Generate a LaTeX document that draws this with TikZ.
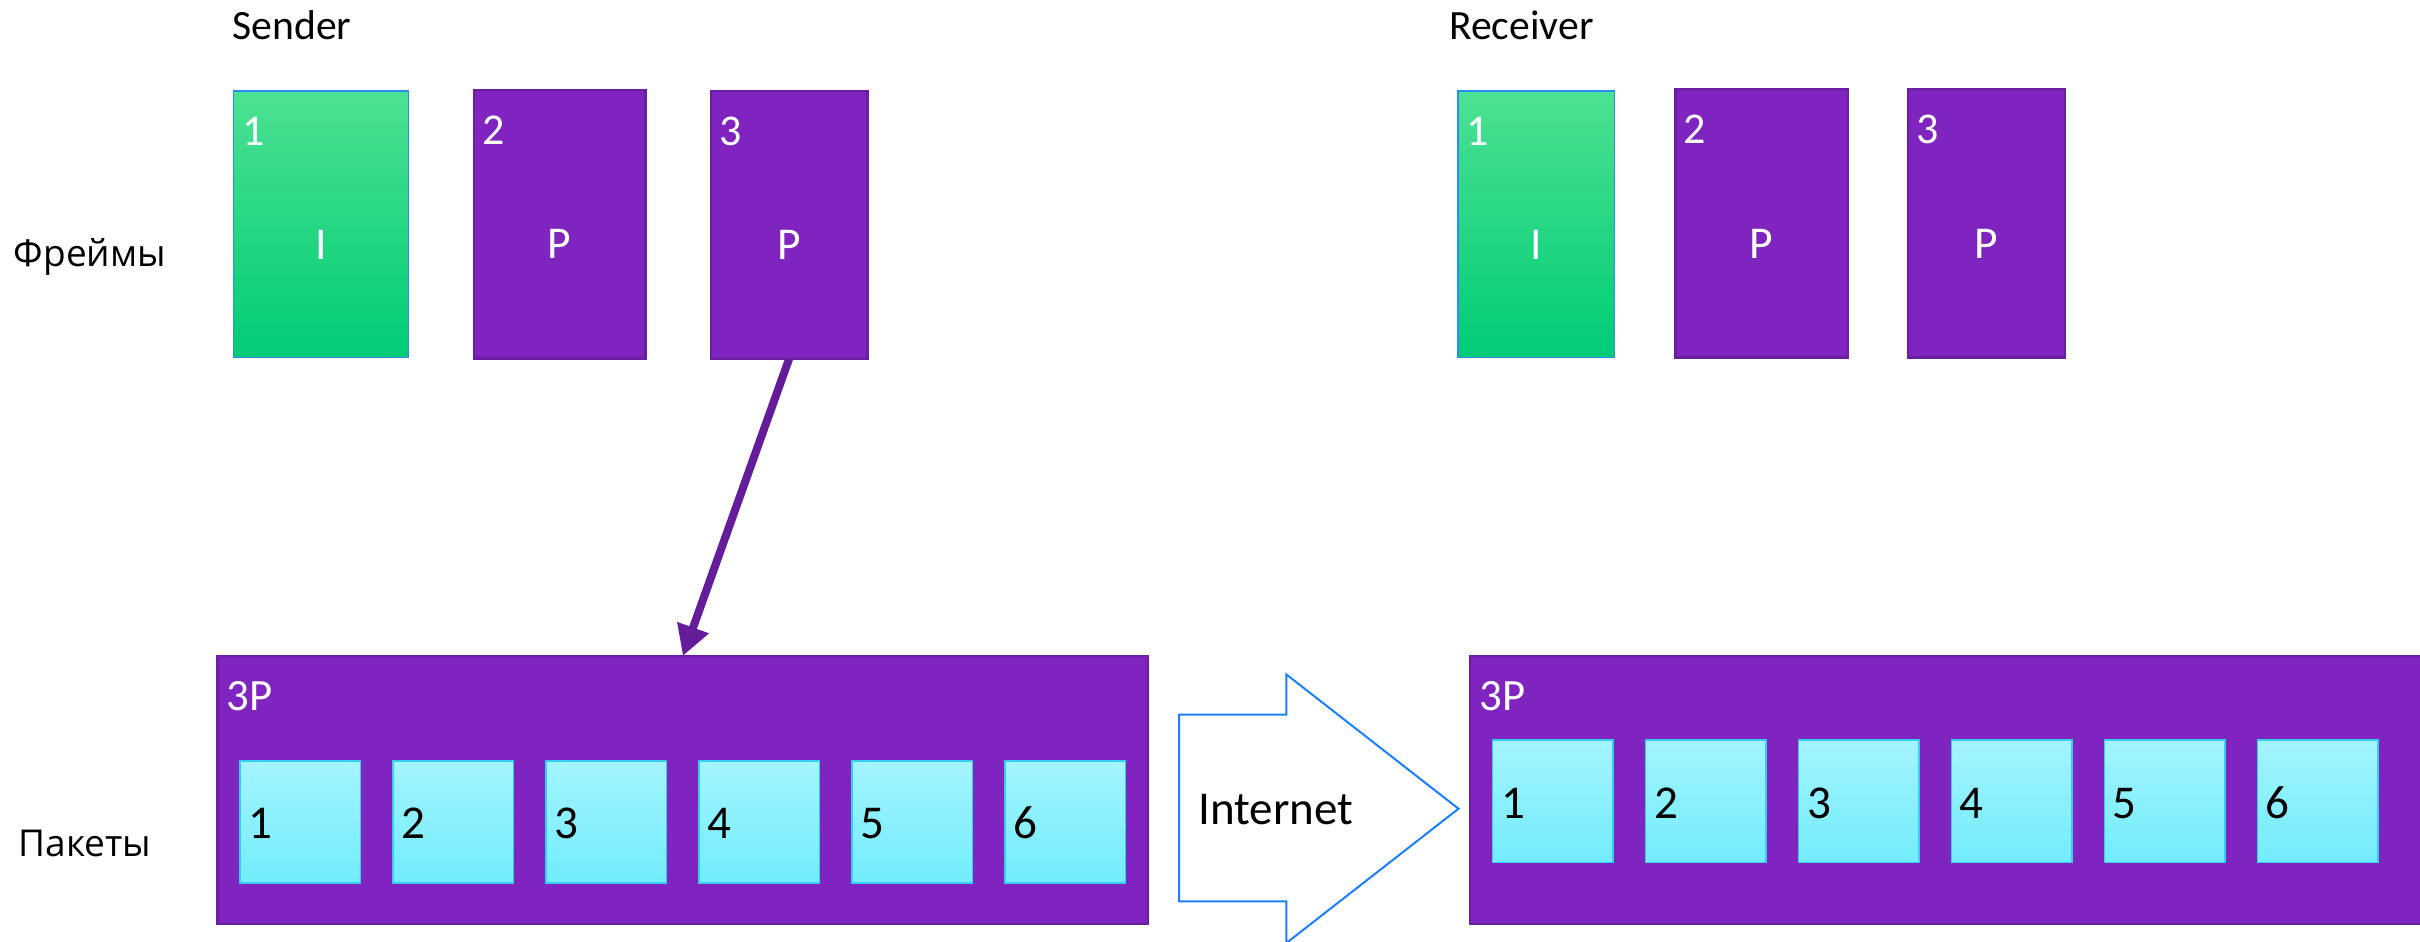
\documentclass[tikz,border=0pt]{standalone}
\usepackage{fontspec}
\setmainfont{Carlito}
\newfontfamily\rowfont{Open Sans}
\usetikzlibrary{arrows.meta,calc}

\definecolor{vio}{HTML}{7F24BE}
\definecolor{viodark}{HTML}{6A1FA0}
\definecolor{arrowvio}{HTML}{651C9A}
\definecolor{greentop}{HTML}{4CE192}
\definecolor{greenbot}{HTML}{00CC76}
\definecolor{greenedge}{HTML}{2A8CF5}
\definecolor{cyantop}{HTML}{A3F4FE}
\definecolor{cyanbot}{HTML}{72ECFB}
\definecolor{cyanedge}{HTML}{36CDEE}
\definecolor{netblue}{HTML}{1B7FFF}

\newcommand{\fs}[1]{\fontsize{#1}{#1}\selectfont}

\begin{document}
\begin{tikzpicture}[x=1pt,y=-1pt,
  every node/.style={inner sep=0pt, outer sep=0pt},
  iframe/.style={draw=greenedge, line width=1pt, top color=greentop,
    bottom color=greenbot, anchor=north west},
  pframe/.style={draw=viodark, fill=vio, line width=1.5pt, anchor=north west},
  container/.style={draw=viodark, fill=vio, line width=1.5pt, anchor=north west,
    minimum height=173.7pt},
  packet/.style={draw=cyanedge, line width=1pt, top color=cyantop,
    bottom color=cyanbot, anchor=north west, minimum width=78pt, minimum height=79.3pt},
  frameno/.style={text=white, anchor=base west, font=\fs{28.5}},
  frametype/.style={text=white, anchor=base, font=\fs{29.5}},
  packno/.style={text=black, anchor=base west, font=\fs{30.5}},
  title/.style={text=black, anchor=base west, font=\fs{27}},
  rowlabel/.style={text=black, anchor=base west, font=\rowfont\fs{24}},
]
\clip (0,0) rectangle (1568,610);
\fill[white] (0,0) rectangle (1568,610);

% column titles
\node[title] (snd) at (150.7,25.5) {Sender};
\node[title] (rcv) at (939,25.5) {Receiver};

% row labels
\node[rowlabel] (rowf) at (9,172.4) {Фреймы};
\node[rowlabel] (rowp) at (12,554.7) {Пакеты};

% sender frames
\node[iframe, minimum width=113.4pt, minimum height=172.7pt] (f1) at (151.3,58.8) {};
\node[pframe, minimum width=111.2pt, minimum height=174.1pt] (f2) at (307,58.1) {};
\node[pframe, minimum width=101.5pt, minimum height=173.8pt] (f3) at (460.5,58.8) {};

% receiver frames
\node[iframe, minimum width=101.5pt, minimum height=172.7pt] (r1) at (944.7,58.8) {};
\node[pframe, minimum width=111.7pt, minimum height=174pt] (r2) at (1085.5,57.7) {};
\node[pframe, minimum width=101.8pt, minimum height=174pt] (r3) at (1236.2,57.7) {};

% frame numbers and types
\foreach \f/\n/\t in {f1/1/I, f2/2/P, f3/3/P, r1/1/I, r2/2/P, r3/3/P} {
  \node[frameno] (\f-no) at ($(\f.north west)+(5.5,35.3)$) {\n};
  \node[frametype] (\f-type) at ($(\f.north)+(0,109.5)$) {\t};
}

% sender packet container
\node[container, minimum width=603pt] (pk) at (141,425) {};
\node[frameno, font=\fs{29}] (pk-name) at ($(pk.north west)+(6,35.5)$) {3P};
\foreach \i in {1,...,6} {
  \node[packet] (p\i) at ({155.6+99.1*(\i-1)},492.9) {};
  \node[packno] (p\i-no) at ($(p\i.north west)+(5.5,50.6)$) {\i};
}

% receiver packet container
\node[container, minimum width=700pt] (pkr) at (952.5,425) {};
\node[frameno, font=\fs{29}] (pkr-name) at ($(pkr.north west)+(6,35.5)$) {3P};
\foreach \i in {1,...,6} {
  \node[packet] (q\i) at ({967.1+99.1*(\i-1)},479.5) {};
  \node[packno] (q\i-no) at ($(q\i.north west)+(5.5,50.6)$) {\i};
}

% frame 3 is split into packets
\draw[arrowvio, line width=5.2pt, -{Triangle[length=19.5pt,width=20.5pt]}]
  (f3.south) -- (pk.north);

% transfer over the network
\draw[netblue, line width=1.3pt, fill=white, line join=miter]
  (764,463) -- (833.5,463) -- (833.5,437) -- (945,524) -- (833.5,611)
  -- (833.5,584) -- (764,584) -- cycle;
\node[packno] (net) at (776.5,534) {Internet};
\end{tikzpicture}
\end{document}
